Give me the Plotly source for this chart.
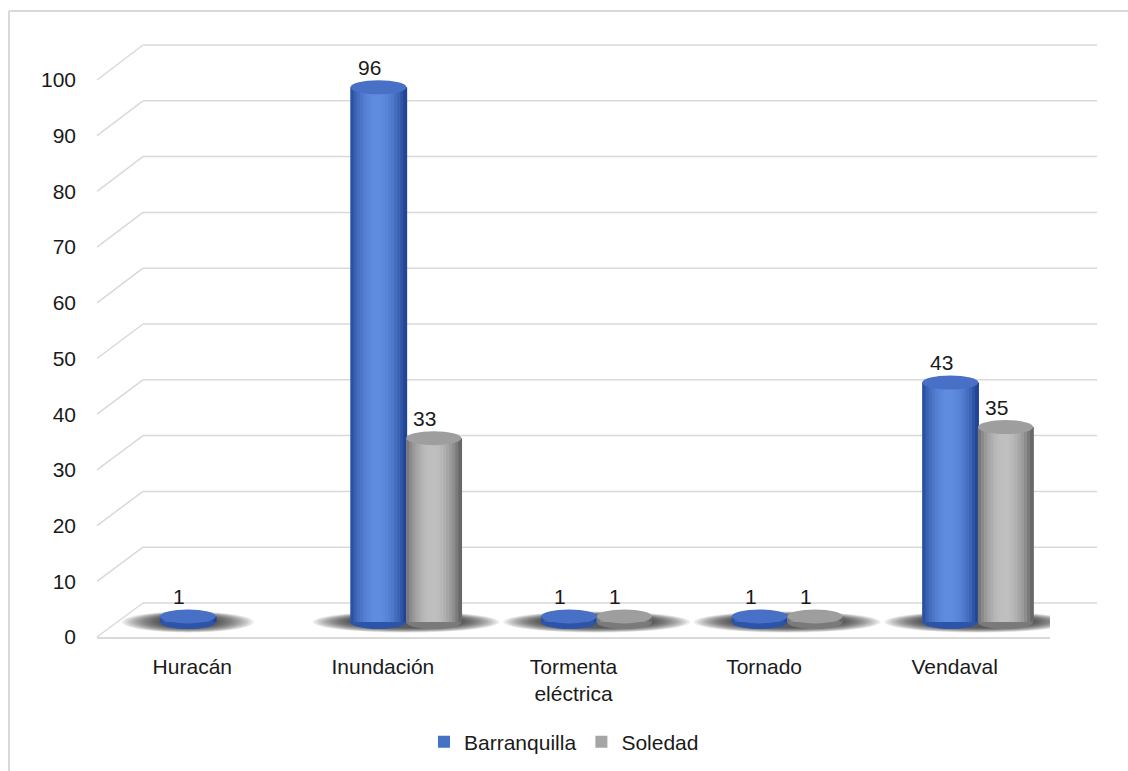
import math
import plotly.graph_objects as go

# ---------------- data ----------------
categories = ["Huracán", "Inundación", "Tormenta<br>eléctrica", "Tornado", "Vendaval"]
barranquilla = [1, 96, 1, 1, 43]
soledad = [None, 33, 1, 1, 35]
y_ticks = [0, 10, 20, 30, 40, 50, 60, 70, 80, 90, 100]

# ---------------- geometry / style ----------------
W, H = 1128, 771
def px(x): return x / W
def py(y): return 1 - y / H

FRONT_L, FRONT_R = 97, 1050
FRONT_Y0, FRONT_Y100 = 637, 80
BACK_L, BACK_R = 143, 1097
BACK_Y0, BACK_Y100 = 603, 45
BAR_Y0, BAR_SCALE = 622, 5.57
Y2_MIN = -5

FONT = "Liberation Sans, Arial, sans-serif"
TXT = "#1a1a1a"
GRID = "#d9d9d9"
FS = 21

series = [
    dict(name="Barranquilla", vals=barranquilla, off=-0.17, w=0.294, base="#4472C4",
         edge=(34, 68, 148), center=(96, 141, 224), cap="rgb(72,112,198)", bottom="rgb(44,84,168)"),
    dict(name="Soledad", vals=soledad, off=0.122, w=0.29, base="#A5A5A5",
         edge=(104, 104, 104), center=(192, 192, 192), cap="rgb(158,158,158)", bottom="rgb(122,122,122)"),
]

fig = go.Figure()
shapes = []
annotations = []

# back wall gridlines and diagonal connectors
fs = (FRONT_Y0 - FRONT_Y100) / 100
bs = (BACK_Y0 - BACK_Y100) / 100
for v in y_ticks:
    yb = BACK_Y0 - v * bs
    shapes.append(dict(type="line", xref="paper", yref="paper", layer="below",
                       x0=px(BACK_L), y0=py(yb), x1=px(BACK_R), y1=py(yb),
                       line=dict(color=GRID, width=1.5)))
    shapes.append(dict(type="line", xref="paper", yref="paper", layer="below",
                       x0=px(FRONT_L), y0=py(FRONT_Y0 - v * fs), x1=px(BACK_L), y1=py(yb),
                       line=dict(color=GRID, width=1.5)))

# soft shadows on the floor
NS = 14
for i in range(len(categories)):
    lefts, rights = [], []
    for s in series:
        if s["vals"][i] is not None:
            lefts.append(i + s["off"])
            rights.append(i + s["off"] + s["w"])
    if not lefts:
        continue
    l, r = min(lefts), max(rights)
    ext = 38 / 190.6
    for k in range(NS):
        f = k / NS
        shapes.append(dict(type="circle", xref="x", yref="y2", layer="between",
                           x0=l - ext * (1 - f), x1=r + ext * (1 - f),
                           y0=-1.9 + 0.9 * f, y1=1.9 - 0.7 * f,
                           fillcolor="rgba(20,20,20,0.075)", line=dict(width=0)))

N = 18
for s in series:
    # base bar (legend entry)
    fig.add_trace(go.Bar(x=categories, y=s["vals"], name=s["name"],
                         marker=dict(color=s["base"], line=dict(width=0)),
                         offset=s["off"], width=s["w"], xaxis="x", yaxis="y2", hoverinfo="skip"))
    # cylinder shading stripes
    for k in range(N):
        t = (k + 0.5) / N
        f = math.sin(math.pi * min(1, t * 1.05)) ** 0.7
        col = tuple(int(s["edge"][c] + (s["center"][c] - s["edge"][c]) * f) for c in range(3))
        fig.add_trace(go.Bar(x=categories, y=s["vals"], showlegend=False,
                             marker=dict(color="rgb(%d,%d,%d)" % col, line=dict(width=0)),
                             offset=s["off"] + k * s["w"] / N, width=s["w"] / N * 1.2,
                             xaxis="x", yaxis="y2", hoverinfo="skip"))
    for i, v in enumerate(s["vals"]):
        if v is None:
            continue
        x0 = i + s["off"]
        x1 = x0 + s["w"]
        shapes.append(dict(type="circle", xref="x", yref="y2", layer="between", x0=x0, x1=x1,
                           y0=-1.25, y1=1.25, fillcolor=s["bottom"], line=dict(width=0)))
        shapes.append(dict(type="circle", xref="x", yref="y2", layer="above", x0=x0, x1=x1,
                           y0=v - 1.25, y1=v + 1.25, fillcolor=s["cap"], line=dict(width=0)))
        annotations.append(dict(x=(x0 + x1) / 2, y=v, xref="x", yref="y2", text=str(v), showarrow=False,
                                yanchor="bottom", yshift=6, xshift=-9,
                                font=dict(size=FS, color=TXT, family=FONT)))

# outer frame
shapes.append(dict(type="line", xref="paper", yref="paper", x0=px(9), y0=py(11), x1=px(9), y1=0,
                   line=dict(color=GRID, width=2)))
shapes.append(dict(type="line", xref="paper", yref="paper", x0=px(9), y0=py(11), x1=1, y1=py(11),
                   line=dict(color=GRID, width=2)))

# invisible trace so the front value axis is drawn
fig.add_trace(go.Scatter(x=[categories[0]], y=[0], xaxis="x", yaxis="y", mode="markers",
                         marker=dict(opacity=0), showlegend=False, hoverinfo="skip"))

fig.update_layout(
    template="none",
    width=W, height=H,
    margin=dict(l=0, r=0, t=0, b=0, pad=0, autoexpand=False),
    paper_bgcolor="white", plot_bgcolor="rgba(0,0,0,0)",
    barmode="overlay",
    font=dict(family=FONT, size=FS, color=TXT),
    showlegend=True,
    legend=dict(orientation="h", x=0.5, xanchor="center", y=py(742), yanchor="middle",
                font=dict(size=FS, color=TXT), itemwidth=30, traceorder="normal",
                bgcolor="rgba(0,0,0,0)"),
    xaxis=dict(domain=[px(FRONT_L), px(FRONT_R)], range=[-0.5, 4.5], anchor="y", automargin=False,
               showgrid=False, zeroline=False, showline=True, linecolor=GRID, linewidth=1.5,
               ticks="", tickfont=dict(size=FS, color=TXT), ticklabelstandoff=10, fixedrange=True),
    yaxis=dict(domain=[py(FRONT_Y0), py(FRONT_Y100)], range=[0, 100], tickvals=y_ticks, anchor="x",
               automargin=False, showgrid=False, zeroline=False, showline=False, ticks="",
               tickfont=dict(size=FS, color=TXT), ticklabelstandoff=20, fixedrange=True),
    yaxis2=dict(domain=[py(BAR_Y0 - Y2_MIN * BAR_SCALE), py(BAR_Y0 - 100 * BAR_SCALE)], range=[Y2_MIN, 100],
                anchor="x", visible=False, fixedrange=True, automargin=False),
    shapes=shapes,
    annotations=annotations,
)

fig.write_html("out.html")
